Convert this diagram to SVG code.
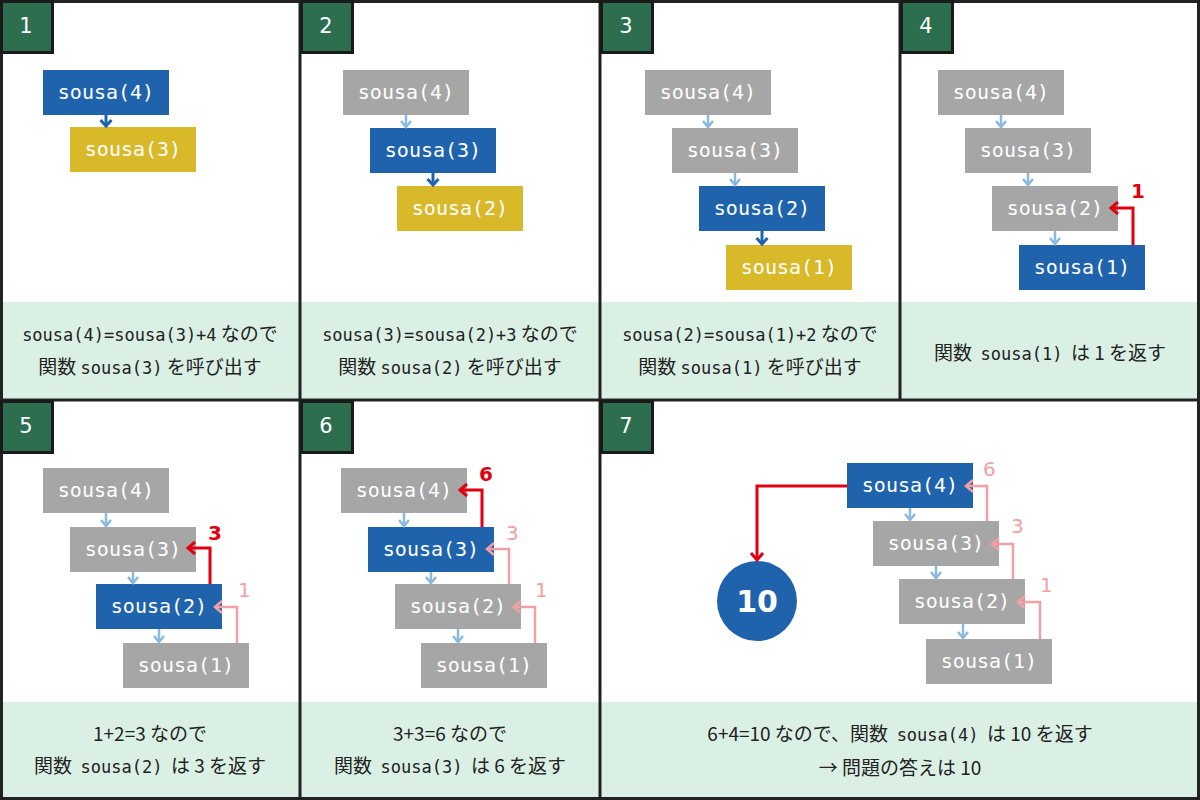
<svg xmlns="http://www.w3.org/2000/svg" width="1200" height="800" viewBox="0 0 1200 800">
<style>
.bg{fill:#ffffff}
.cap{fill:#dbf0e4}
.frame{fill:none;stroke:#222;stroke-width:3}
.tag rect{fill:#2d6e4f;stroke:#1a1a1a;stroke-width:3}
.tag text{fill:#fff;font-family:"DejaVu Sans",sans-serif;font-size:21px;text-anchor:middle}
.bx text{fill:#fff;font-family:"DejaVu Sans Mono",monospace;font-size:20px;text-anchor:middle}
.blue rect{fill:#1f63ad}
.gray rect{fill:#a6a6a6}
.yel rect{fill:#d8b92a}
.t{fill:#222;font-family:"Noto Sans CJK JP","Noto Sans",sans-serif;font-size:19px;text-anchor:middle;white-space:pre}
.m{font-family:"DejaVu Sans Mono","Noto Sans CJK JP",monospace;font-size:17px}
.down{fill:none;stroke:#8ab8de;stroke-width:2.5}
.downA{fill:none;stroke:#1f63ad;stroke-width:3}
.red{fill:none;stroke:#e00010;stroke-width:3}
.pink{fill:none;stroke:#f2a0a4;stroke-width:2.5}
.rl{fill:#e00010;font-family:"DejaVu Sans",sans-serif;font-size:20px;font-weight:bold}
.pl{fill:#f2a0a4;font-family:"DejaVu Sans",sans-serif;font-size:20px}
</style>
<defs>
<marker id="mDown" markerUnits="userSpaceOnUse" markerWidth="14" markerHeight="14" refX="7" refY="11" orient="0" overflow="visible">
<path d="M2,5 L7,11 L12,5" fill="none" stroke="#8ab8de" stroke-width="2.5"/>
</marker>
<marker id="mDownA" markerUnits="userSpaceOnUse" markerWidth="14" markerHeight="14" refX="7" refY="11" orient="0" overflow="visible">
<path d="M1.5,5 L7,11 L12.5,5" fill="none" stroke="#1f63ad" stroke-width="3"/>
</marker>
<marker id="mRed" markerUnits="userSpaceOnUse" markerWidth="14" markerHeight="16" refX="12" refY="8" orient="auto" overflow="visible">
<path d="M5,2 L12,8 L5,14" fill="none" stroke="#e00010" stroke-width="3"/>
</marker>
<marker id="mPink" markerUnits="userSpaceOnUse" markerWidth="14" markerHeight="16" refX="12" refY="8" orient="auto" overflow="visible">
<path d="M5,2 L12,8 L5,14" fill="none" stroke="#f2a0a4" stroke-width="2.5"/>
</marker>
</defs>
<rect class="bg" x="0" y="0" width="1200" height="800"/>
<rect class="cap" x="0" y="302" width="1200" height="98"/>
<rect class="cap" x="0" y="702" width="1200" height="98"/>
<g id="frames">
<rect class="frame" x="1.5" y="1.5" width="1197" height="797"/>
<line class="frame" x1="0" y1="400" x2="1200" y2="400"/>
<line class="frame" x1="300" y1="0" x2="300" y2="800"/>
<line class="frame" x1="600" y1="0" x2="600" y2="800"/>
<line class="frame" x1="900" y1="0" x2="900" y2="400"/>
</g>
<g id="tags">
<g class="tag" id="tag1"><rect x="1.5" y="1.5" width="51" height="51"/><text x="26" y="33">1</text></g>
<g class="tag" id="tag2"><rect x="301.5" y="1.5" width="51" height="51"/><text x="326" y="33">2</text></g>
<g class="tag" id="tag3"><rect x="601.5" y="1.5" width="51" height="51"/><text x="626" y="33">3</text></g>
<g class="tag" id="tag4"><rect x="901.5" y="1.5" width="51" height="51"/><text x="926" y="33">4</text></g>
<g class="tag" id="tag5"><rect x="1.5" y="401.5" width="51" height="51"/><text x="26" y="433">5</text></g>
<g class="tag" id="tag6"><rect x="301.5" y="401.5" width="51" height="51"/><text x="326" y="433">6</text></g>
<g class="tag" id="tag7"><rect x="601.5" y="401.5" width="51" height="51"/><text x="626" y="433">7</text></g>
</g>
<g id="p1">
<g id="p1-s4" class="bx blue"><rect x="43" y="70" width="126" height="45"/><text x="106" y="99">sousa(4)</text></g>
<g id="p1-s3" class="bx yel"><rect x="70" y="127" width="126" height="45"/><text x="133" y="156">sousa(3)</text></g>
</g>
<g id="p2">
<g id="p2-s4" class="bx gray"><rect x="343" y="70" width="126" height="45"/><text x="406" y="99">sousa(4)</text></g>
<g id="p2-s3" class="bx blue"><rect x="370" y="128" width="126" height="45"/><text x="433" y="157">sousa(3)</text></g>
<g id="p2-s2" class="bx yel"><rect x="397" y="186" width="126" height="45"/><text x="460" y="215">sousa(2)</text></g>
</g>
<g id="p3">
<g id="p3-s4" class="bx gray"><rect x="645" y="70" width="126" height="45"/><text x="708" y="99">sousa(4)</text></g>
<g id="p3-s3" class="bx gray"><rect x="672" y="128" width="126" height="45"/><text x="735" y="157">sousa(3)</text></g>
<g id="p3-s2" class="bx blue"><rect x="699" y="186" width="126" height="45"/><text x="762" y="215">sousa(2)</text></g>
<g id="p3-s1" class="bx yel"><rect x="726" y="245" width="126" height="45"/><text x="789" y="274">sousa(1)</text></g>
</g>
<g id="p4">
<g id="p4-s4" class="bx gray"><rect x="938" y="70" width="126" height="45"/><text x="1001" y="99">sousa(4)</text></g>
<g id="p4-s3" class="bx gray"><rect x="965" y="128" width="126" height="45"/><text x="1028" y="157">sousa(3)</text></g>
<g id="p4-s2" class="bx gray"><rect x="992" y="186" width="126" height="45"/><text x="1055" y="215">sousa(2)</text></g>
<g id="p4-s1" class="bx blue"><rect x="1019" y="245" width="126" height="45"/><text x="1082" y="274">sousa(1)</text></g>
</g>
<g id="p5">
<g id="p5-s4" class="bx gray"><rect x="43" y="468" width="126" height="45"/><text x="106" y="497">sousa(4)</text></g>
<g id="p5-s3" class="bx gray"><rect x="70" y="527" width="126" height="45"/><text x="133" y="556">sousa(3)</text></g>
<g id="p5-s2" class="bx blue"><rect x="96" y="584" width="126" height="45"/><text x="159" y="613">sousa(2)</text></g>
<g id="p5-s1" class="bx gray"><rect x="123" y="643" width="126" height="45"/><text x="186" y="672">sousa(1)</text></g>
</g>
<g id="p6">
<g id="p6-s4" class="bx gray"><rect x="341" y="468" width="126" height="45"/><text x="404" y="497">sousa(4)</text></g>
<g id="p6-s3" class="bx blue"><rect x="368" y="527" width="126" height="45"/><text x="431" y="556">sousa(3)</text></g>
<g id="p6-s2" class="bx gray"><rect x="395" y="584" width="126" height="45"/><text x="458" y="613">sousa(2)</text></g>
<g id="p6-s1" class="bx gray"><rect x="421" y="643" width="126" height="45"/><text x="484" y="672">sousa(1)</text></g>
</g>
<g id="p7">
<g id="p7-s4" class="bx blue"><rect x="847" y="463" width="126" height="45"/><text x="910" y="492">sousa(4)</text></g>
<g id="p7-s3" class="bx gray"><rect x="873" y="521" width="126" height="45"/><text x="936" y="550">sousa(3)</text></g>
<g id="p7-s2" class="bx gray"><rect x="899" y="579" width="126" height="45"/><text x="962" y="608">sousa(2)</text></g>
<g id="p7-s1" class="bx gray"><rect x="926" y="639" width="126" height="45"/><text x="989" y="668">sousa(1)</text></g>
<g id="p7-answer"><circle cx="757" cy="601" r="40" fill="#1f63ad"/><text x="757" y="612" fill="#fff" font-family="'DejaVu Sans',sans-serif" font-size="30" font-weight="bold" text-anchor="middle">10</text></g>
</g>
<g id="connectors">
<path class="downA" d="M106,114 V126" marker-end="url(#mDownA)"/>
<path class="down" d="M406,115 V127" marker-end="url(#mDown)"/>
<path class="downA" d="M433,173 V185" marker-end="url(#mDownA)"/>
<path class="down" d="M708,115 V127" marker-end="url(#mDown)"/>
<path class="down" d="M735,173 V185" marker-end="url(#mDown)"/>
<path class="downA" d="M762,231 V244" marker-end="url(#mDownA)"/>
<path class="down" d="M1001,115 V127" marker-end="url(#mDown)"/>
<path class="down" d="M1028,173 V185" marker-end="url(#mDown)"/>
<path class="down" d="M1055,231 V244" marker-end="url(#mDown)"/>
<path class="red" d="M1133,245 V208 H1111" marker-end="url(#mRed)"/>
<path class="down" d="M106,513 V526" marker-end="url(#mDown)"/>
<path class="down" d="M133,572 V583" marker-end="url(#mDown)"/>
<path class="down" d="M159,629 V642" marker-end="url(#mDown)"/>
<path class="red" d="M210,584 V548 H188" marker-end="url(#mRed)"/>
<path class="pink" d="M237,643 V607 H215" marker-end="url(#mPink)"/>
<path class="down" d="M404,513 V526" marker-end="url(#mDown)"/>
<path class="down" d="M431,572 V583" marker-end="url(#mDown)"/>
<path class="down" d="M458,629 V642" marker-end="url(#mDown)"/>
<path class="red" d="M482,527 V490 H460" marker-end="url(#mRed)"/>
<path class="pink" d="M509,584 V549 H487" marker-end="url(#mPink)"/>
<path class="pink" d="M535,643 V607 H514" marker-end="url(#mPink)"/>
<path class="down" d="M910,508 V520" marker-end="url(#mDown)"/>
<path class="down" d="M936,566 V578" marker-end="url(#mDown)"/>
<path class="down" d="M963,624 V638" marker-end="url(#mDown)"/>
<path class="pink" d="M987,521 V486 H966" marker-end="url(#mPink)"/>
<path class="pink" d="M1013,579 V544 H992" marker-end="url(#mPink)"/>
<path class="pink" d="M1040,639 V602 H1018" marker-end="url(#mPink)"/>
<path class="red" d="M847,486 H757 V560" marker-end="url(#mRed)"/>
</g>
<g id="labels">
<text class="rl" x="1131" y="198">1</text>
<text class="rl" x="208" y="540">3</text>
<text class="pl" x="238" y="597">1</text>
<text class="rl" x="479" y="481">6</text>
<text class="pl" x="506" y="540">3</text>
<text class="pl" x="535" y="597">1</text>
<text class="pl" x="983" y="476">6</text>
<text class="pl" x="1011" y="533">3</text>
<text class="pl" x="1040" y="592">1</text>
</g>
<g id="captions">
<text class="t" x="150" y="341"><tspan class="m">sousa(4)=sousa(3)+4</tspan> なので</text>
<text class="t" x="150" y="374">関数 <tspan class="m">sousa(3)</tspan> を呼び出す</text>
<text class="t" x="450" y="341"><tspan class="m">sousa(3)=sousa(2)+3</tspan> なので</text>
<text class="t" x="450" y="374">関数 <tspan class="m">sousa(2)</tspan> を呼び出す</text>
<text class="t" x="750" y="341"><tspan class="m">sousa(2)=sousa(1)+2</tspan> なので</text>
<text class="t" x="750" y="374">関数 <tspan class="m">sousa(1)</tspan> を呼び出す</text>
<text class="t" x="1050" y="360">関数  <tspan class="m">sousa(1)</tspan>  は 1 を返す</text>
<text class="t" x="150" y="741">1+2=3 なので</text>
<text class="t" x="150" y="773">関数  <tspan class="m">sousa(2)</tspan>  は 3 を返す</text>
<text class="t" x="450" y="741">3+3=6 なので</text>
<text class="t" x="450" y="773">関数  <tspan class="m">sousa(3)</tspan>  は 6 を返す</text>
<text class="t" x="900" y="741">6+4=10 なので、関数  <tspan class="m">sousa(4)</tspan>  は 10 を返す</text>
<text class="t" x="900" y="775">→ 問題の答えは 10</text>
</g>
</svg>
